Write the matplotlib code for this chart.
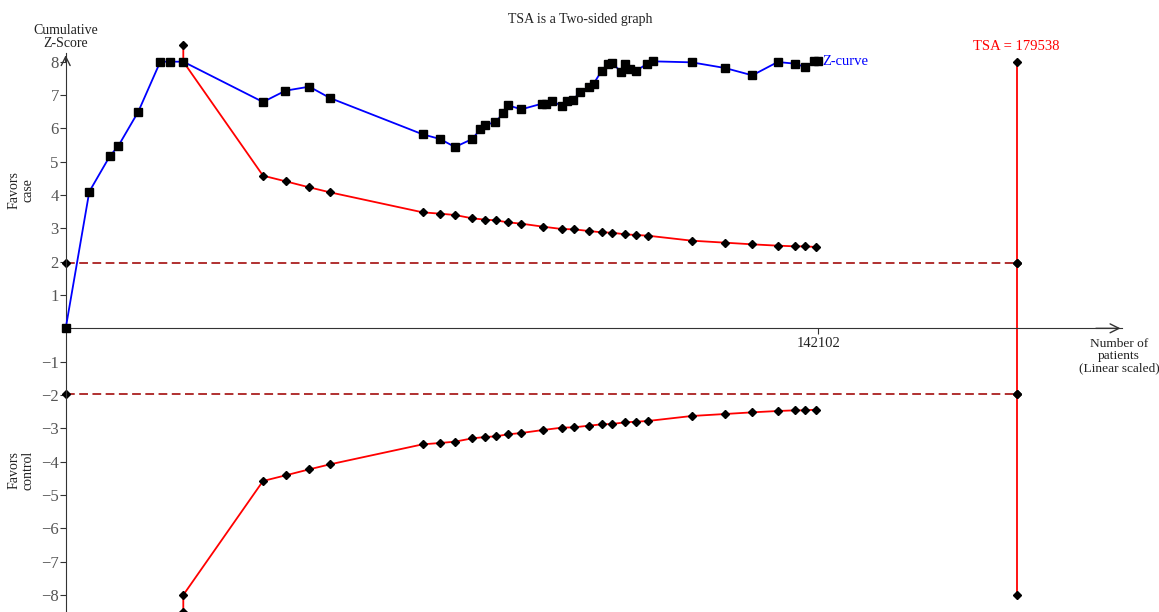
import matplotlib.pyplot as plt

plt.rcParams['font.family'] = ['Liberation Serif', 'DejaVu Serif']

# cumulative Z-curve (patients, z), values above 8 shown as 8
z_patients = [0, 4456, 8308, 9932, 13708, 17862, 19637, 22205, 37255, 41503,
              45997, 49905, 67409, 70676, 73508, 76775, 78323, 79230, 81156,
              82609, 83553, 86027, 89936, 90691, 91824, 93656, 94713, 95789,
              97111, 98810, 99698, 101208, 102398, 103153, 104909, 105665,
              106552, 107742, 109819, 110895, 118202, 124490, 129645, 134441,
              137708, 139596, 141352, 142102]
z_values = [0.0, 4.10, 5.16, 5.47, 6.50, 8.0, 8.0, 8.0, 6.79, 7.13,
            7.25, 6.91, 5.82, 5.68, 5.44, 5.68, 5.98, 6.10, 6.19,
            6.45, 6.69, 6.57, 6.74, 6.74, 6.81, 6.68, 6.83, 6.85,
            7.09, 7.24, 7.34, 7.73, 7.94, 7.96, 7.69, 7.92,
            7.78, 7.73, 7.94, 8.01, 7.98, 7.81, 7.59, 7.99,
            7.94, 7.84, 8.01, 8.01]

# trial sequential monitoring boundary (upper; lower is mirrored)
b_patients = [22205, 37255, 41541, 45997, 49905, 67409, 70676, 73508, 76775,
              79230, 81194, 83516, 86027, 90124, 93656, 95921, 98810, 101208,
              103097, 105665, 107742, 109894, 118202, 124490, 129645, 134441,
              137708, 139596, 141616]
b_values = [8.0, 4.58, 4.41, 4.23, 4.08, 3.48, 3.44, 3.40, 3.30,
            3.26, 3.24, 3.18, 3.14, 3.05, 2.98, 2.97, 2.92, 2.88,
            2.87, 2.82, 2.80, 2.78, 2.63, 2.57, 2.52, 2.48,
            2.46, 2.46, 2.44]
b_offscale = 8.5   # first boundary value, drawn above the clipped 8

tsa = 179538
n_total = 142102
conv = 1.96
zmax = 8

fig = plt.figure(figsize=(11.59, 6.12), dpi=100)
ax = fig.add_axes([0, 0, 1, 1])
ax.set_xlim(-12405, 206439)
ax.set_ylim(-8.51, 9.85)

for s in ['top', 'right']:
    ax.spines[s].set_visible(False)
axcol = '#333333'
ax.spines['left'].set_position(('data', 0))
ax.spines['bottom'].set_position(('data', 0))
ax.spines['left'].set_bounds(-8.51, 8.25)
ax.spines['bottom'].set_bounds(0, 199400)
ax.spines['left'].set_color(axcol)
ax.spines['bottom'].set_color(axcol)
ax.annotate('', xy=(0, 8.28), xytext=(0, 7.9),
            arrowprops=dict(arrowstyle='->', color=axcol, lw=1,
                            mutation_scale=16))
ax.annotate('', xy=(199700, 0), xytext=(194000, 0),
            arrowprops=dict(arrowstyle='->', color=axcol, lw=1,
                            mutation_scale=16))

yt = [v for v in range(-8, 9) if v != 0]
ax.set_yticks(yt)
ax.set_xticks([n_total])
ax.set_xticklabels([str(n_total)])
ax.tick_params(axis='y', direction='out', length=4, color=axcol,
               labelcolor='#555555', labelsize=12, pad=1)
ax.tick_params(axis='x', direction='out', length=4, color=axcol,
               labelcolor='#222222', labelsize=10.5, pad=2)

# conventional boundaries
dark_red = '#b03030'
for sgn in [1, -1]:
    ax.plot([0, tsa], [sgn * conv, sgn * conv], color=dark_red, lw=1.4,
            ls=(0, (4.5, 2.3)), marker='D', ms=4, mfc='black', mec='black',
            zorder=2)

# required information size line
ax.plot([tsa, tsa], [-zmax, zmax], color='red', lw=1.3, zorder=2)
ax.plot([tsa] * 4, [zmax, conv, -conv, -zmax], ls='none', marker='D', ms=4,
        color='black', zorder=3)

# monitoring boundaries
for sgn in [1, -1]:
    xs = [b_patients[0]] + b_patients
    ys = [sgn * b_offscale] + [sgn * v for v in b_values]
    ax.plot(xs, ys, color='red', lw=1.3, zorder=3)
    ax.plot(xs, ys, ls='none', marker='D', ms=4, color='black', zorder=4)

# Z-curve
ax.plot(z_patients, z_values, color='blue', lw=1.3, marker='s', ms=5.5,
        mfc='black', mec='black', zorder=5)
ax.annotate('Z-curve', xy=(z_patients[-1], z_values[-1]), xytext=(3, 0),
            textcoords='offset points', ha='left', va='center',
            color='blue', fontsize=10.5)

ax.text(tsa, 8.27, 'TSA = %d' % tsa, color='red', fontsize=10.5,
        ha='center', va='bottom')

W, H = 1159, 612
fs = 10
fig.text(580 / W, 1 - 19 / H, 'TSA is a Two-sided graph', ha='center',
         va='center', fontsize=fs, color='#222222')
fig.text(66 / W, 1 - 37 / H, 'Cumulative\nZ-Score', ha='center', va='center',
         fontsize=fs, color='#222222', linespacing=1.05)
fig.text(21 / W, 1 - 190 / H, 'Favors\ncase', ha='center', va='center',
         rotation=90, fontsize=fs, color='#222222', linespacing=1.05)
fig.text(21 / W, 1 - 470 / H, 'Favors\ncontrol', ha='center', va='center',
         rotation=90, fontsize=fs, color='#222222', linespacing=1.05)
fig.text(1119 / W, 1 - 356 / H, 'Number of\npatients\n(Linear scaled)',
         ha='center', va='center', fontsize=9.6, color='#222222',
         linespacing=1.05)

fig.savefig('out.png', dpi=100, facecolor='white')
